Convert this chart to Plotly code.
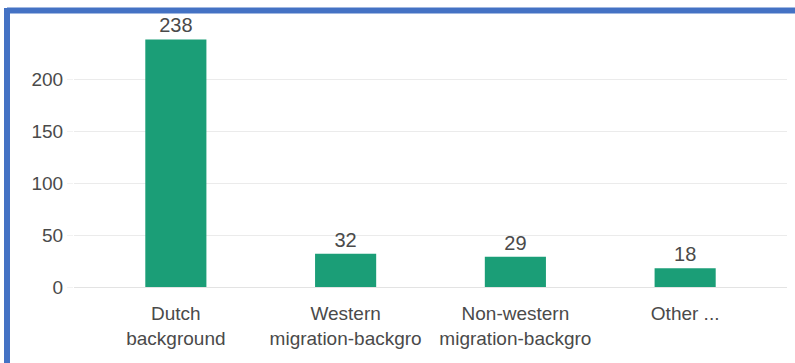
import plotly.graph_objects as go

# Category labels as shown on the axis (truncated as in the dashboard)
categories = [
    "Dutch<br>background",
    "Western<br>migration-backgro",
    "Non-western<br>migration-backgro",
    "Other ...",
]
counts = [238, 32, 29, 18]

y_ticks = [0, 50, 100, 150, 200]

BAR_COLOR = "#1B9E77"
FRAME_COLOR = "#4472C4"
TEXT_COLOR = "#4A4A4A"
FONT = "Liberation Sans, Arial, sans-serif"

fig = go.Figure(
    go.Bar(
        x=list(range(len(categories))),
        y=counts,
        marker=dict(color=BAR_COLOR, line=dict(width=0)),
        text=[str(v) for v in counts],
        textposition="outside",
        textfont=dict(size=20, color=TEXT_COLOR, family=FONT),
        cliponaxis=False,
        hoverinfo="skip",
    )
)

W, H = 795, 363
L, R, T, B = 74, 8, 27, 76
pw, ph = W - L - R, H - T - B


def px_x(x):
    return (x - L) / pw


def px_y(y):
    return (H - B - y) / ph


# Blue report frame along top and left edges
fig.add_shape(type="line", xref="paper", yref="paper",
              x0=px_x(7), x1=px_x(W + 20), y0=px_y(10.5), y1=px_y(10.5),
              line=dict(color=FRAME_COLOR, width=6), layer="above")
fig.add_shape(type="line", xref="paper", yref="paper",
              x0=px_x(7), x1=px_x(7), y0=px_y(8), y1=px_y(H + 20),
              line=dict(color=FRAME_COLOR, width=6), layer="above")

fig.update_layout(
    width=W,
    height=H,
    margin=dict(l=L, r=R, t=T, b=B),
    paper_bgcolor="white",
    plot_bgcolor="white",
    bargap=0.64,
    showlegend=False,
    font=dict(family=FONT, color=TEXT_COLOR),
    xaxis=dict(
        range=[-0.6, 3.6],
        tickmode="array",
        tickvals=list(range(len(categories))),
        ticktext=categories,
        tickfont=dict(size=19, color=TEXT_COLOR, family=FONT),
        showgrid=False,
        zeroline=False,
        showline=False,
        ticks="",
        ticklabelstandoff=13,
        fixedrange=True,
    ),
    yaxis=dict(
        range=[0, 250],
        tickmode="array",
        tickvals=y_ticks,
        tickfont=dict(size=19, color=TEXT_COLOR, family=FONT),
        showgrid=True,
        gridcolor="#EBEBEB",
        gridwidth=1,
        zeroline=True,
        zerolinecolor="#E3E3E3",
        zerolinewidth=1,
        showline=False,
        ticks="outside",
        ticklen=6,
        tickcolor="#F2F2F2",
        ticklabelstandoff=0,
        fixedrange=True,
    ),
)

fig.write_html("out.html")
